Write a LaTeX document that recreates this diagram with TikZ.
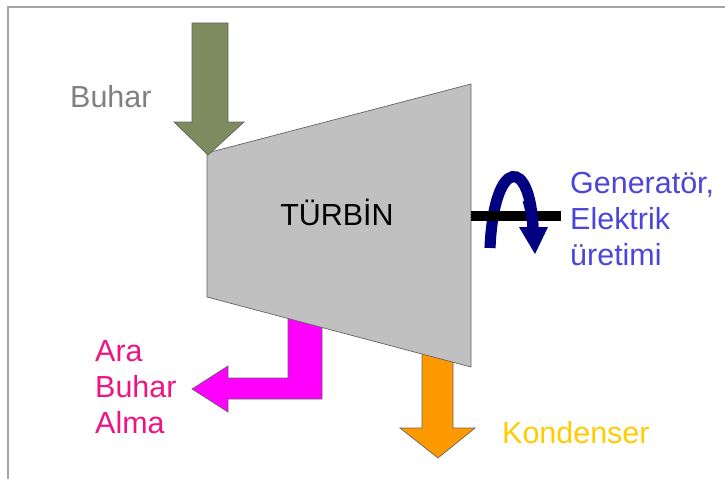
\documentclass[tikz,border=0pt]{standalone}
\usepackage{fontspec}
\setmainfont{Liberation Sans}
\definecolor{steamgreen}{RGB}{125,139,94}
\definecolor{casing}{RGB}{192,192,192}
\definecolor{edgegray}{RGB}{100,100,100}
\definecolor{framegray}{RGB}{165,165,165}
\definecolor{bleedfill}{RGB}{255,0,255}
\definecolor{condfill}{RGB}{255,153,0}
\definecolor{bleedpink}{RGB}{240,20,130}
\definecolor{condgold}{RGB}{255,204,0}
\definecolor{gentext}{RGB}{75,70,215}
\definecolor{shaftnavy}{RGB}{0,0,128}
\tikzset{
  blockarrow/.style={draw=edgegray, line width=0.6pt, line join=miter},
  label/.style={inner sep=0pt, font=\fontsize{26}{31}\selectfont},
}
\begin{document}
\begin{tikzpicture}[x=0.03cm, y=-0.03cm]
    \useasboundingbox (0,0) rectangle (725,479);
    \draw[framegray, line width=1.5pt] (8,479) -- (8,7) -- (725,7);
    \draw[blockarrow, fill=bleedfill] (288,310) -- (322,310) -- (322,399) -- (228,399) -- (228,412)
        -- (192,389) -- (228,366) -- (228,378) -- (288,378) -- cycle;
    \draw[blockarrow, fill=condfill] (422,340) -- (453,340) -- (453,428) -- (475,428)
        -- (438,458) -- (400,428) -- (422,428) -- cycle;
    \draw[blockarrow, fill=casing] (207,153) -- (471,84) -- (471,367) -- (207,297) -- cycle;
    \draw[blockarrow, fill=steamgreen] (192,23) -- (228,23) -- (228,122) -- (244,122)
        -- (208,155) -- (174,122) -- (192,122) -- cycle;
    \begin{scope}
        \draw[shaftnavy, line width=9.5pt] (490,248) .. controls (494,156) and (531,156) .. (533,230);
        \draw[black, line width=8.5pt] (471,216) -- (561,216);
        \draw[shaftnavy, line width=9.5pt] (528,200) .. controls (531,210) and (533,220) .. (533,230);
        \fill[shaftnavy] (519,227) -- (548,227) -- (535,254) -- cycle;
    \end{scope}
    \node[label, anchor=west, text=gray] (steam) at (70,97) {Buhar};
    \node[label] (turbine) at (337,212) {TÜRBİN};
    \node[label, anchor=west, align=left, text=gentext] (generator) at (570,219)
        {Generatör,\\Elektrik\\üretimi};
    \node[label, anchor=west, align=left, text=bleedpink] (bleed) at (95,387)
        {Ara\\Buhar\\Alma};
    \node[label, anchor=west, text=condgold] (condenser) at (502,433) {Kondenser};
\end{tikzpicture}
\end{document}
